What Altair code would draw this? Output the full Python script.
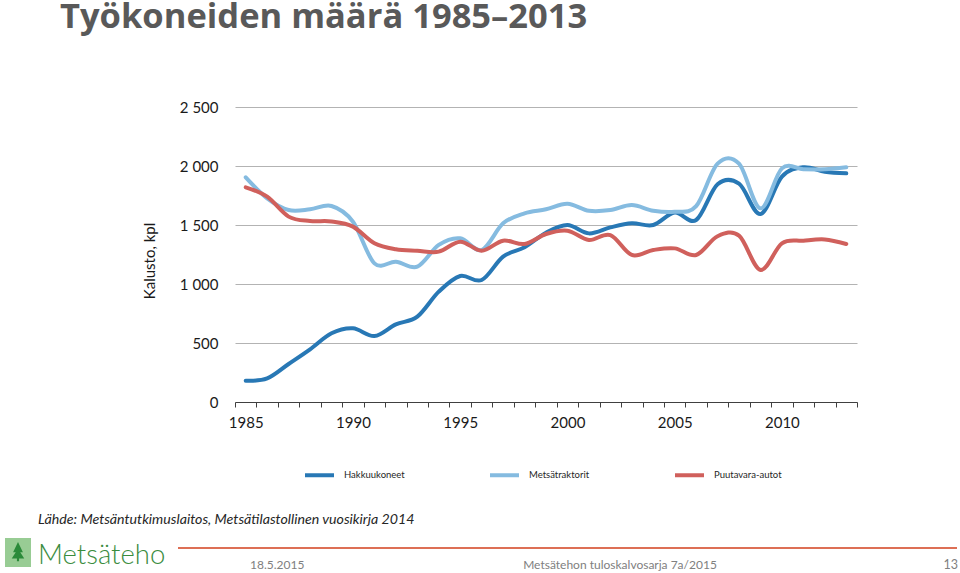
import altair as alt
import pandas as pd

# ---- data ----
years = list(range(1985, 2014))
series_names = ["Hakkuukoneet", "Metsätraktorit", "Puutavara-autot"]
hakkuukoneet = [181, 200, 322, 446, 582, 624, 559, 658, 723, 935, 1068, 1034, 1232, 1311, 1435,
                1500, 1429, 1480, 1514, 1500, 1605, 1542, 1845, 1850, 1593, 1910, 1989, 1952, 1938]
metsatraktorit = [1904, 1726, 1627, 1633, 1661, 1528, 1175, 1189, 1147, 1331, 1387, 1288, 1514, 1599, 1633,
                  1680, 1621, 1627, 1669, 1621, 1612, 1660, 2020, 2020, 1641, 1980, 1972, 1972, 1989]
puutavara_autot = [1819, 1740, 1571, 1534, 1530, 1486, 1345, 1294, 1282, 1274, 1359, 1282, 1367, 1339, 1424,
                   1452, 1373, 1415, 1246, 1288, 1302, 1246, 1405, 1410, 1119, 1345, 1367, 1378, 1339]
colors = ["#2878B5", "#85BBE0", "#D0605C"]
y_ticks = [0, 500, 1000, 1500, 2000, 2500]

title_text = "Työkoneiden määrä 1985–2013"
y_title = "Kalusto, kpl"
source_text = "Lähde: Metsäntutkimuslaitos, Metsätilastollinen vuosikirja 2014"
logo_text = "Metsäteho"
date_text = "18.5.2015"
footer_text = "Metsätehon tuloskalvosarja 7a/2015"
page_text = "13"

rows = []
for name, vals in zip(series_names, [hakkuukoneet, metsatraktorit, puutavara_autot]):
    for yr, v in zip(years, vals):
        rows.append({"year": yr, "value": v, "series": name})
df = pd.DataFrame(rows)

FONT = "Lato"
W, H = 622, 295
PAD = {"left": 235, "top": 107, "right": 103, "bottom": 171}
step = W / len(years)
tick_vals = [years[0] - 0.5 + i for i in range(len(years) + 1)]

lines = alt.Chart(df).mark_line(interpolate="cardinal", strokeWidth=4, strokeCap="round").encode(
    x=alt.X("year:Q",
            scale=alt.Scale(domain=[years[0] - 0.5, years[-1] + 0.5], nice=False, zero=False),
            axis=alt.Axis(values=tick_vals, title=None, grid=False,
                          labelExpr="((datum.value + 0.5) % 5 == 0 && datum.value < 2013) ? format(datum.value + 0.5, 'd') : ''",
                          labelOffset=step / 2, labelOverlap=False, labelFlush=False, labelBound=False,
                          tickSize=5, tickColor="#404040", domainColor="#404040",
                          labelPadding=8, labelFontSize=15, labelFont=FONT, labelColor="#1a1a1a")),
    y=alt.Y("value:Q",
            scale=alt.Scale(domain=[0, 2500], nice=False),
            axis=alt.Axis(values=y_ticks, title=None, domain=False, ticks=False, grid=True,
                          gridColor="#b3b3b3", gridWidth=1,
                          labelExpr="replace(format(datum.value, ','), ',', ' ')",
                          labelPadding=17, labelFontSize=15, labelFont=FONT, labelColor="#1a1a1a")),
    color=alt.Color("series:N",
                    scale=alt.Scale(domain=series_names, range=colors),
                    legend=alt.Legend(orient="none", legendX=68, legendY=351.5, direction="horizontal",
                                      columns=3, title=None, symbolType="stroke", symbolSize=841,
                                      symbolStrokeWidth=4, labelFontSize=9.5, labelFont=FONT,
                                      labelOffset=8, gridAlign="all", columnPadding=70,
                                      labelColor="#262626")),
    order=alt.Order("series:N"),
)


def txt(text, x, y, size, color, align="left", baseline="alphabetic", weight="normal",
        style="normal", angle=0, font=FONT):
    return alt.Chart(pd.DataFrame({"t": [text]})).mark_text(
        align=align, baseline=baseline, fontSize=size, color=color, font=font,
        fontWeight=weight, fontStyle=style, angle=angle
    ).encode(x=alt.value(x), y=alt.value(y), text="t:N")


title = txt(title_text, -175, -79, 34.5, "#595959", weight="bold", font="Open Sans")
ytitle = txt(y_title, -85, 154, 15, "#1a1a1a", align="center", baseline="middle", angle=270)
source = txt(source_text, -197, 417, 14.2, "#262626", style="italic")
logo = txt(logo_text, -197, 457, 27.5, "#3a8c3e", weight=300)
date = txt(date_text, 15, 462, 12, "#808080")
footer = txt(footer_text, 385, 462, 12, "#808080", align="center")
page = txt(page_text, 723, 462, 12.5, "#808080", align="right")

sep = alt.Chart(pd.DataFrame({"a": [0]})).mark_rule(color="#DD6F55", strokeWidth=2).encode(
    x=alt.value(-57), x2=alt.value(722), y=alt.value(441))

icon_bg = alt.Chart(pd.DataFrame({"a": [0]})).mark_rect(color="#98cc94").encode(
    x=alt.value(-230), x2=alt.value(-204), y=alt.value(431), y2=alt.value(460))
tree_path = "M0,-1 L0.55,0.15 L0.25,0.15 L0.7,0.85 L0.12,0.85 L0.12,1.15 L-0.12,1.15 L-0.12,0.85 L-0.7,0.85 L-0.25,0.15 L-0.55,0.15 Z"
icon_tree = alt.Chart(pd.DataFrame({"a": [0]})).mark_point(
    shape=tree_path, filled=True, color="#2b8a3a", opacity=1, size=320).encode(
    x=alt.value(-217), y=alt.value(444))

chart = alt.layer(lines, title, ytitle, source, sep, icon_bg, icon_tree, logo, date, footer, page).properties(
    width=W, height=H,
    autosize=alt.AutoSizeParams(type="none"),
    padding=PAD,
    background="white",
).configure_view(stroke=None)

chart.save("out.html", embed_options={"renderer": "svg", "actions": False})
